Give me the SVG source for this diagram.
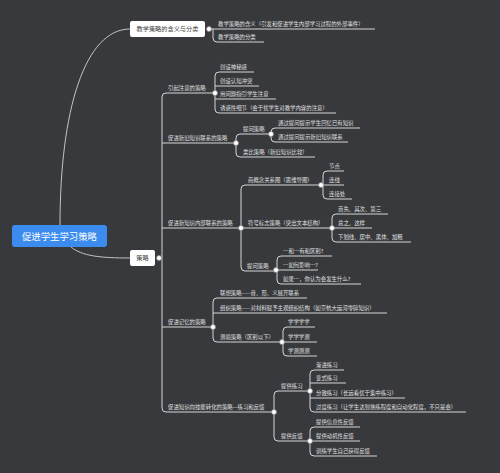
<svg xmlns="http://www.w3.org/2000/svg" width="500" height="473" viewBox="0 0 500 473">
<style>
.t{font-family:"Noto Sans CJK SC","Noto Sans",sans-serif;font-size:5.4px;fill:#e2e2e2}
.bt{font-family:"Noto Sans CJK SC","Noto Sans",sans-serif;font-size:6.2px;fill:#444;text-anchor:middle}
.rt{font-family:"Noto Sans CJK SC","Noto Sans",sans-serif;font-size:9.4px;fill:#fff;text-anchor:middle}
.l{fill:none;stroke:#d6d6d6;stroke-width:1}
.c{fill:none;stroke:#c4c4c4;stroke-width:1}
.k{fill:#fff;stroke:#8a8a8a;stroke-width:0.7}
</style>
<rect width="500" height="473" fill="#37393d"/>
<g id="connectors">
<path class="c" d="M60,225 C60,110 85,29 130,29"/>
<path class="c" d="M71,247 C82,256 100,258 130,258"/>
<path class="l" d="M209,29 H375 M213,29 V38 Q213,42 217,42 H264"/>
<path class="l" d="M159,258 H162 M214,93 H166 Q162,93 162,97 V408 Q162,412 166,412 H274 M162,143 H236 M162,228 H241 M162,327 H213"/>
<path class="l" d="M254,72 H219 Q215,72 215,76 V109 Q215,113 219,113 H336 M215,86 H259 M215,99 H276"/>
<path class="l" d="M271,134 H240 Q236,134 236,138 V153 Q236,157 240,157 H315"/>
<path class="l" d="M360,128 H275 Q271,128 271,132 V138 Q271,142 275,142 H348"/>
<path class="l" d="M321,185 H245 Q241,185 241,189 V267 Q241,271 245,271 H276 M241,228 H332"/>
<path class="l" d="M344,171 H327 Q323,171 323,175 V195 Q323,199 327,199 H352 M321,185 H344"/>
<path class="l" d="M388,214 H336 Q332,214 332,218 V238 Q332,242 336,242 H411 M332,228 H372"/>
<path class="l" d="M332,256 H281 Q277,256 277,260 V280 Q277,284 281,284 H361 M276,270 H318"/>
<path class="l" d="M307,298 H217 Q213,298 213,302 V338 Q213,342 217,342 H282 M213,313 H387"/>
<path class="l" d="M315,327 H287 Q283,327 283,331 V352 Q283,356 287,356 H317 M282,342 H317"/>
<path class="l" d="M310,391 H278 Q274,391 274,395 V437 Q274,441 278,441 H310"/>
<path class="l" d="M344,370 H314 Q310,370 310,374 V408 Q310,412 314,412 H466 M310,383 H346 M310,398 H405"/>
<path class="l" d="M360,427 H314 Q310,427 310,431 V452 Q310,456 314,456 H377 M310,441 H360"/>
</g>
<g id="root"><rect x="12" y="225" width="95" height="22" rx="3" fill="#3c8cf0"/><text class="rt" x="59.5" y="239.5">促进学生学习策略</text></g>
<g id="n-a"><rect x="130" y="21" width="75" height="16" rx="2" fill="#fff"/><text class="bt" x="167.5" y="31.3">教学策略的含义与分类</text><circle class="k" cx="209" cy="29" r="2.5"/></g>
<g id="n-a1"><text class="t" x="218" y="25.5">教学策略的含义（引发和促进学生内部学习过程的外部事件）</text></g>
<g id="n-a2"><text class="t" x="218" y="38.5">教学策略的分类</text></g>
<g id="n-b"><rect x="130" y="250" width="25" height="16" rx="2" fill="#fff"/><text class="bt" x="142.5" y="260.3">策略</text><circle class="k" cx="159" cy="258" r="2.5"/></g>
<g id="n-b1"><text class="t" x="168" y="89.5">引起注意的策略</text><circle class="k" cx="215" cy="93" r="2.5"/></g>
<g id="n-b1a"><text class="t" x="220" y="68.5">创设神秘感</text></g>
<g id="n-b1b"><text class="t" x="220" y="82.5">创设认知冲突</text></g>
<g id="n-b1c"><text class="t" x="220" y="95.5">用问题指引学生注意</text></g>
<g id="n-b1d"><text class="t" x="220" y="109.5">诱惑性细节（会于扰学生对教学内容的注意）</text></g>
<g id="n-b2"><text class="t" x="168" y="139.5">促进新旧知识联系的策略</text><circle class="k" cx="236" cy="143" r="2.5"/></g>
<g id="n-b2a"><text class="t" x="243" y="130.5">提问策略</text><circle class="k" cx="271" cy="134" r="2.5"/></g>
<g id="n-b2a1"><text class="t" x="278" y="124.5">通过提问提示学生回忆已有知识</text></g>
<g id="n-b2a2"><text class="t" x="278" y="138.5">通过提问提示新旧知识联系</text></g>
<g id="n-b2b"><text class="t" x="243" y="153.5">类比策略（新旧知识比较）</text></g>
<g id="n-b3"><text class="t" x="168" y="224.5">促进新知识内部联系的策略</text><circle class="k" cx="241" cy="228" r="2.5"/></g>
<g id="n-b3a"><text class="t" x="248" y="181.5">画概念关系图（思维导图）</text><circle class="k" cx="321" cy="185" r="2.5"/></g>
<g id="n-b3a1"><text class="t" x="329" y="167.5">节点</text></g>
<g id="n-b3a2"><text class="t" x="329" y="181.5">连线</text></g>
<g id="n-b3a3"><text class="t" x="329" y="195.5">连接处</text></g>
<g id="n-b3b"><text class="t" x="248" y="224.5">符号标志策略（突出文本结构）</text><circle class="k" cx="332" cy="228" r="2.5"/></g>
<g id="n-b3b1"><text class="t" x="338" y="210.5">首先、其次、第三</text></g>
<g id="n-b3b2"><text class="t" x="338" y="224.5">总之、这样</text></g>
<g id="n-b3b3"><text class="t" x="338" y="238.5">下划线、居中、黑体、加粗</text></g>
<g id="n-b3c"><text class="t" x="247" y="267.5">提问策略</text><circle class="k" cx="276" cy="270" r="2.5"/></g>
<g id="n-b3c1"><text class="t" x="283" y="252.5">…和…有和区别?</text></g>
<g id="n-b3c2"><text class="t" x="283" y="266.5">…如何影响…?</text></g>
<g id="n-b3c3"><text class="t" x="283" y="280.5">如果…，你认为会发生什么?</text></g>
<g id="n-b4"><text class="t" x="168" y="323.5">促进记忆的策略</text><circle class="k" cx="213" cy="327" r="2.5"/></g>
<g id="n-b4a"><text class="t" x="220" y="294.5">联想策略——音、形、义展开联系</text></g>
<g id="n-b4b"><text class="t" x="220" y="309.5">组织策略——对材料赋予主观组织结构（如京杭大运河零碎知识）</text></g>
<g id="n-b4c"><text class="t" x="220" y="338.5">测验策略（区别以下）</text><circle class="k" cx="282" cy="342" r="2.5"/></g>
<g id="n-b4c1"><text class="t" x="288" y="323.5">学学学学</text></g>
<g id="n-b4c2"><text class="t" x="288" y="338.5">学学学测</text></g>
<g id="n-b4c3"><text class="t" x="288" y="352.5">学测测测</text></g>
<g id="n-b5"><text class="t" x="168" y="408.5">促进知识向技能转化的策略—练习和反馈</text><circle class="k" cx="274" cy="412" r="2.5"/></g>
<g id="n-b5a"><text class="t" x="281" y="387.5">提供练习</text><circle class="k" cx="310" cy="391" r="2.5"/></g>
<g id="n-b5a1"><text class="t" x="316" y="366.5">渐进练习</text></g>
<g id="n-b5a2"><text class="t" x="316" y="379.5">变式练习</text></g>
<g id="n-b5a3"><text class="t" x="316" y="394.5">分散练习（长远看优于集中练习）</text></g>
<g id="n-b5a4"><text class="t" x="316" y="408.5">过度练习（让学生达到熟练程度和自动化程度，不只是会）</text></g>
<g id="n-b5b"><text class="t" x="281" y="437.5">提供反馈</text><circle class="k" cx="310" cy="441" r="2.5"/></g>
<g id="n-b5b1"><text class="t" x="316" y="423.5">提供信息性反馈</text></g>
<g id="n-b5b2"><text class="t" x="316" y="437.5">提供动机性反馈</text></g>
<g id="n-b5b3"><text class="t" x="316" y="452.5">训练学生自己获得反馈</text></g>
</svg>
